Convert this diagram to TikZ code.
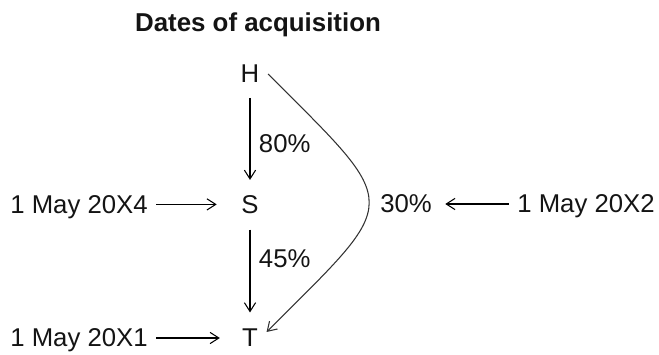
\documentclass[tikz,border=0pt]{standalone}
\usepackage{fontspec}
\setmainfont{Liberation Sans}
\usepackage{xcolor}
\usepackage{tikz}
\usetikzlibrary{arrows.meta, positioning}
\definecolor{noirTexte}{RGB}{20, 20, 20}
\definecolor{griCourbe}{RGB}{50, 50, 50}

\begin{document}
\begin{tikzpicture}[
  ent/.style={inner sep=6pt, text depth=0pt, font=\fontsize{18.3}{22}\selectfont, text=noirTexte},
  dte/.style={inner sep=6pt, text depth=0pt, font=\fontsize{18.3}{22}\selectfont, text=noirTexte},
  pct/.style={inner sep=6pt, text depth=0pt, font=\fontsize{18.3}{22}\selectfont, text=noirTexte},
  arr/.style={-{Straight Barb[length=2.2mm, width=2.8mm]}, line width=0.75pt},
]
\useasboundingbox (0,0) rectangle (16.475,8.85);
\node[font=\fontsize{18.4}{22}\selectfont\bfseries, text=noirTexte] (titre) at (6.45, 8.225) {Dates of acquisition};
\node[ent] (H) at (6.25, 7.0)  {H};
\node[ent] (S) at (6.25, 3.74) {S};
\node[ent] (T) at (6.25, 0.4)  {T};
\node[dte] (d4) at (1.975, 3.74) {1 May 20X4};
\node[dte] (d1) at (1.975, 0.4)  {1 May 20X1};
\node[dte] (d2) at (14.65, 3.75) {1 May 20X2};
\node[pct] (p30) at (10.15, 3.75) {30\%};
\draw[arr, shorten <=0.16cm, shorten >=0.17cm] (H) -- node[pct, right, pos=0.55]{80\%} (S);
\draw[arr, shorten <=0.19cm, shorten >=0.2cm]  (S) -- node[pct, right, pos=0.37]{45\%} (T);
\draw[arr, shorten >=0.4cm]  (d4) -- (S);
\draw[arr, shorten >=0.34cm] (d1) -- (T);
\draw[arr, shorten >=0.12cm] (d2) -- (p30);
\draw[arr, draw=griCourbe] (H.east) to[out=-45, in=45, looseness=1.9] (T.20);
\end{tikzpicture}
\end{document}
